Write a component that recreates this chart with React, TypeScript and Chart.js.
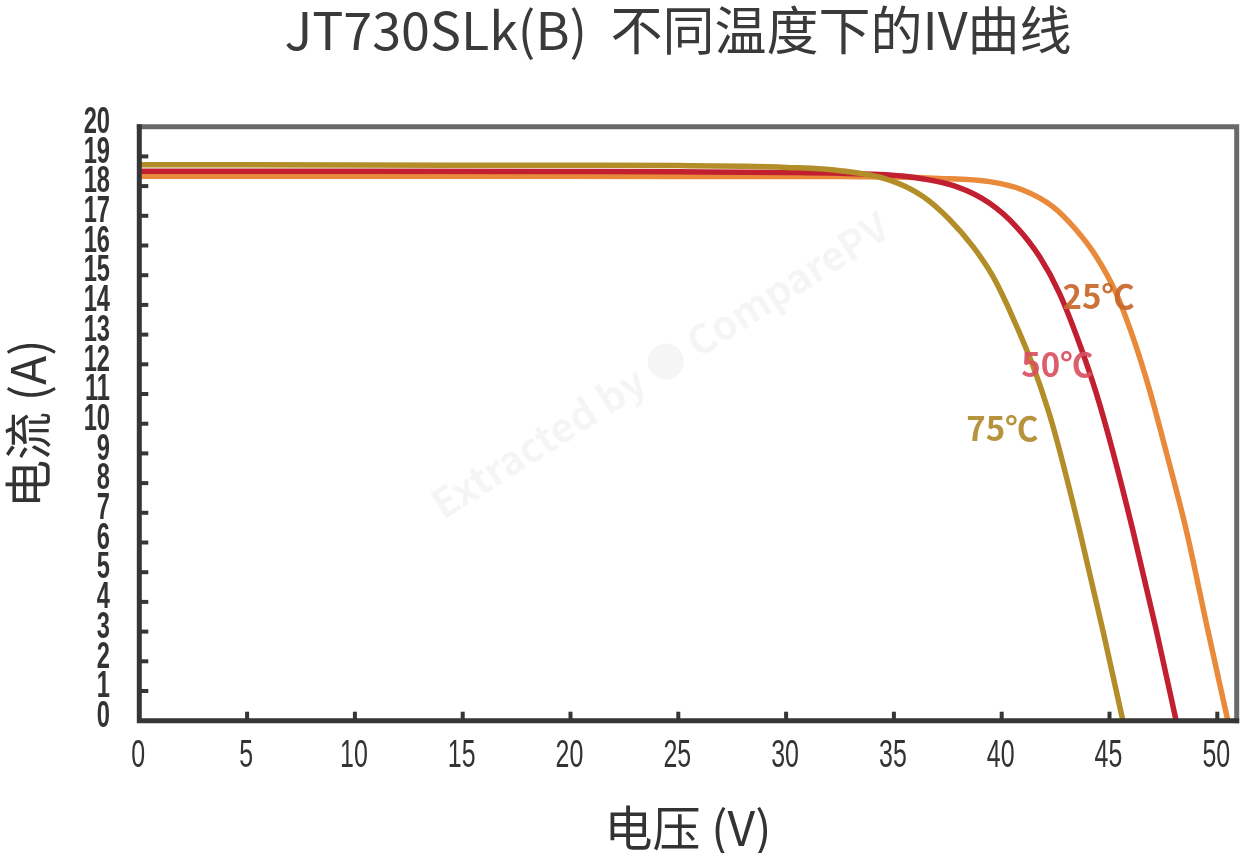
import React, { useEffect, useRef } from 'react';
import { Chart, registerables } from 'chart.js';

Chart.register(...registerables);

// --- data (voltage V, current A) ---
const v75 = [0, 10, 20, 25, 28, 30, 32.5, 34.8, 36.35, 37.6, 38.67, 39.6, 40.5, 41.45, 42.2, 42.68, 43.61, 44.69, 45.62];
const i75 = [18.72, 18.71, 18.7, 18.69, 18.67, 18.63, 18.52, 18.2, 17.65, 16.86, 15.96, 14.95, 13.6, 11.95, 10.35, 9.11, 6.42, 3.05, 0];

const v50 = [0, 10, 20, 25, 30, 32.5, 35.6, 37.9, 39.44, 40.68, 41.76, 42.68, 43.6, 44.39, 45.16, 46.08, 47.17, 48.09];
const i50 = [18.5, 18.5, 18.49, 18.48, 18.46, 18.43, 18.32, 17.98, 17.42, 16.63, 15.62, 14.39, 12.71, 11.02, 9.05, 6.42, 3.05, 0];

const v25 = [0, 10, 20, 30, 32.5, 37.1, 39.44, 40.98, 42.37, 43.46, 44.39, 45.31, 46.08, 46.86, 47.63, 48.56, 49.56, 50.49];
const i25 = [18.33, 18.33, 18.33, 18.32, 18.32, 18.26, 18.15, 17.87, 17.31, 16.52, 15.62, 14.39, 12.93, 11.13, 9.05, 6.42, 3.05, 0];

const seriesNames = ['75℃', '50℃', '25℃'];
// where each curve label sits (left edge voltage, centre current)
const labelV = [38.36, 40.91, 42.82];
const labelI = [9.84, 12.0, 14.28];

const xTicks = [0, 5, 10, 15, 20, 25, 30, 35, 40, 45, 50];
const yTicks = [0, 1, 2, 3, 4, 5, 6, 7, 8, 9, 10, 11, 12, 13, 14, 15, 16, 17, 18, 19, 20];

const titleText = 'JT730SLk(B)  不同温度下的IV曲线';
const watermark = 'Extracted by ● ComparePV';

const lineColors = ['#b38d27', '#c21f30', '#e98a3b'];
const labelColors = ['#b08a2c', '#d94f60', '#c8662a'];

const CJK = '"Noto Sans CJK SC", "Noto Sans", sans-serif';
const TICKFONT = '"Liberation Sans", Arial, sans-serif';

const toPoints = (v: number[], i: number[]) => v.map((x, k) => ({ x, y: i[k] }));

// the tick numbers in the picture are very condensed, so squeeze them horizontally
function squeezed(ctx: CanvasRenderingContext2D, text: string, x: number, y: number, align: CanvasTextAlign, sx: number) {
  ctx.save();
  ctx.translate(x, y);
  ctx.scale(sx, 1);
  ctx.textAlign = align;
  ctx.fillText(text, 0, 0);
  ctx.restore();
}

// frame, inner ticks, tick labels, title, curve labels, watermark
const decorPlugin = {
  id: 'decor',
  beforeDatasetsDraw(chart: any) {
    const { ctx, chartArea } = chart;
    ctx.save();
    ctx.translate((chartArea.left + chartArea.right) / 2 - 28, 365);
    ctx.rotate(-0.565);
    ctx.font = `bold 40px ${CJK}`;
    ctx.fillStyle = 'rgba(0,0,0,0.04)';
    ctx.textAlign = 'center';
    ctx.textBaseline = 'middle';
    ctx.fillText(watermark, 0, 0);
    ctx.restore();
  },
  afterDatasetsDraw(chart: any) {
    const { ctx, chartArea, scales } = chart;
    const { left, right, top, bottom } = chartArea;
    ctx.save();

    // curve labels
    ctx.font = `bold 33px ${CJK}`;
    ctx.textAlign = 'left';
    ctx.textBaseline = 'middle';
    ctx.globalAlpha = 0.92;
    seriesNames.forEach((name, k) => {
      ctx.fillStyle = labelColors[k];
      ctx.fillText(name, scales.x.getPixelForValue(labelV[k]), scales.y.getPixelForValue(labelI[k]));
    });
    ctx.globalAlpha = 1;

    // inner ticks
    ctx.lineWidth = 4;
    ctx.strokeStyle = '#363636';
    yTicks.slice(1, -1).forEach((t) => {
      const py = scales.y.getPixelForValue(t);
      ctx.beginPath();
      ctx.moveTo(left, py);
      ctx.lineTo(left + 9, py);
      ctx.stroke();
    });
    xTicks.slice(1).forEach((t) => {
      const px = scales.x.getPixelForValue(t);
      ctx.beginPath();
      ctx.moveTo(px, bottom);
      ctx.lineTo(px, bottom - 9);
      ctx.stroke();
    });

    // frame
    ctx.lineWidth = 5;
    ctx.lineCap = 'square';
    ctx.strokeStyle = '#6a6a6a';
    ctx.beginPath();
    ctx.moveTo(left, top);
    ctx.lineTo(right, top);
    ctx.lineTo(right, bottom);
    ctx.stroke();
    ctx.strokeStyle = '#363636';
    ctx.beginPath();
    ctx.moveTo(left, top);
    ctx.lineTo(left, bottom);
    ctx.lineTo(right, bottom);
    ctx.stroke();

    // tick labels
    ctx.fillStyle = '#333';
    ctx.textBaseline = 'middle';
    ctx.font = `bold 37px ${TICKFONT}`;
    yTicks.forEach((t) => {
      squeezed(ctx, String(t), 110, scales.y.getPixelForValue(t) - 4, 'right', 0.64);
    });
    ctx.font = `39px ${TICKFONT}`;
    xTicks.forEach((t) => {
      squeezed(ctx, String(t), scales.x.getPixelForValue(t) - 1, 756, 'center', 0.64);
    });

    // title
    ctx.font = `52px ${CJK}`;
    ctx.fillStyle = '#3a3a3a';
    ctx.textAlign = 'center';
    ctx.fillText(titleText, 678, 30);
    ctx.restore();
  },
};

export default function App() {
  const canvasRef = useRef<HTMLCanvasElement>(null);

  useEffect(() => {
    document.body.style.margin = '0';
    const ctx = canvasRef.current?.getContext('2d');
    if (!ctx) return;

    const chart = new Chart(ctx, {
      type: 'line',
      data: {
        datasets: [
          { label: seriesNames[0], data: toPoints(v75, i75), borderColor: lineColors[0] },
          { label: seriesNames[1], data: toPoints(v50, i50), borderColor: lineColors[1] },
          { label: seriesNames[2], data: toPoints(v25, i25), borderColor: lineColors[2] },
        ],
      },
      options: {
        responsive: false,
        animation: false,
        parsing: false,
        layout: { padding: { top: 126.7, right: 5.3, left: 0, bottom: 0 } },
        elements: {
          point: { radius: 0 },
          line: { borderWidth: 5.5, cubicInterpolationMode: 'monotone', borderCapStyle: 'round', borderJoinStyle: 'round', fill: false },
        },
        plugins: { legend: { display: false }, tooltip: { enabled: false }, title: { display: false } },
        scales: {
          x: {
            type: 'linear',
            min: 0,
            max: 50.9,
            afterFit: (s: any) => { s.height = 132.3; },
            grid: { display: false, drawTicks: false },
            border: { display: false },
            ticks: { display: false, stepSize: 5, includeBounds: false },
            title: {
              display: true,
              text: '电压 (V)',
              color: '#333',
              font: { family: CJK, size: 48, lineHeight: 1.1 },
              padding: { top: 0, bottom: -1 },
            },
          },
          y: {
            min: 0,
            max: 20,
            afterFit: (s: any) => { s.width = 139.3; },
            grid: { display: false, drawTicks: false },
            border: { display: false },
            ticks: { display: false, stepSize: 1 },
            title: {
              display: true,
              text: '电流 (A)',
              color: '#333',
              font: { family: CJK, size: 48, lineHeight: 1.1 },
              padding: { top: 1, bottom: 0 },
            },
          },
        },
      },
      plugins: [decorPlugin],
    });

    return () => chart.destroy();
  }, []);

  return (
    <div style={{ width: 1242, height: 853, background: '#fff' }}>
      <canvas ref={canvasRef} width={1242} height={853}></canvas>
    </div>
  );
}
